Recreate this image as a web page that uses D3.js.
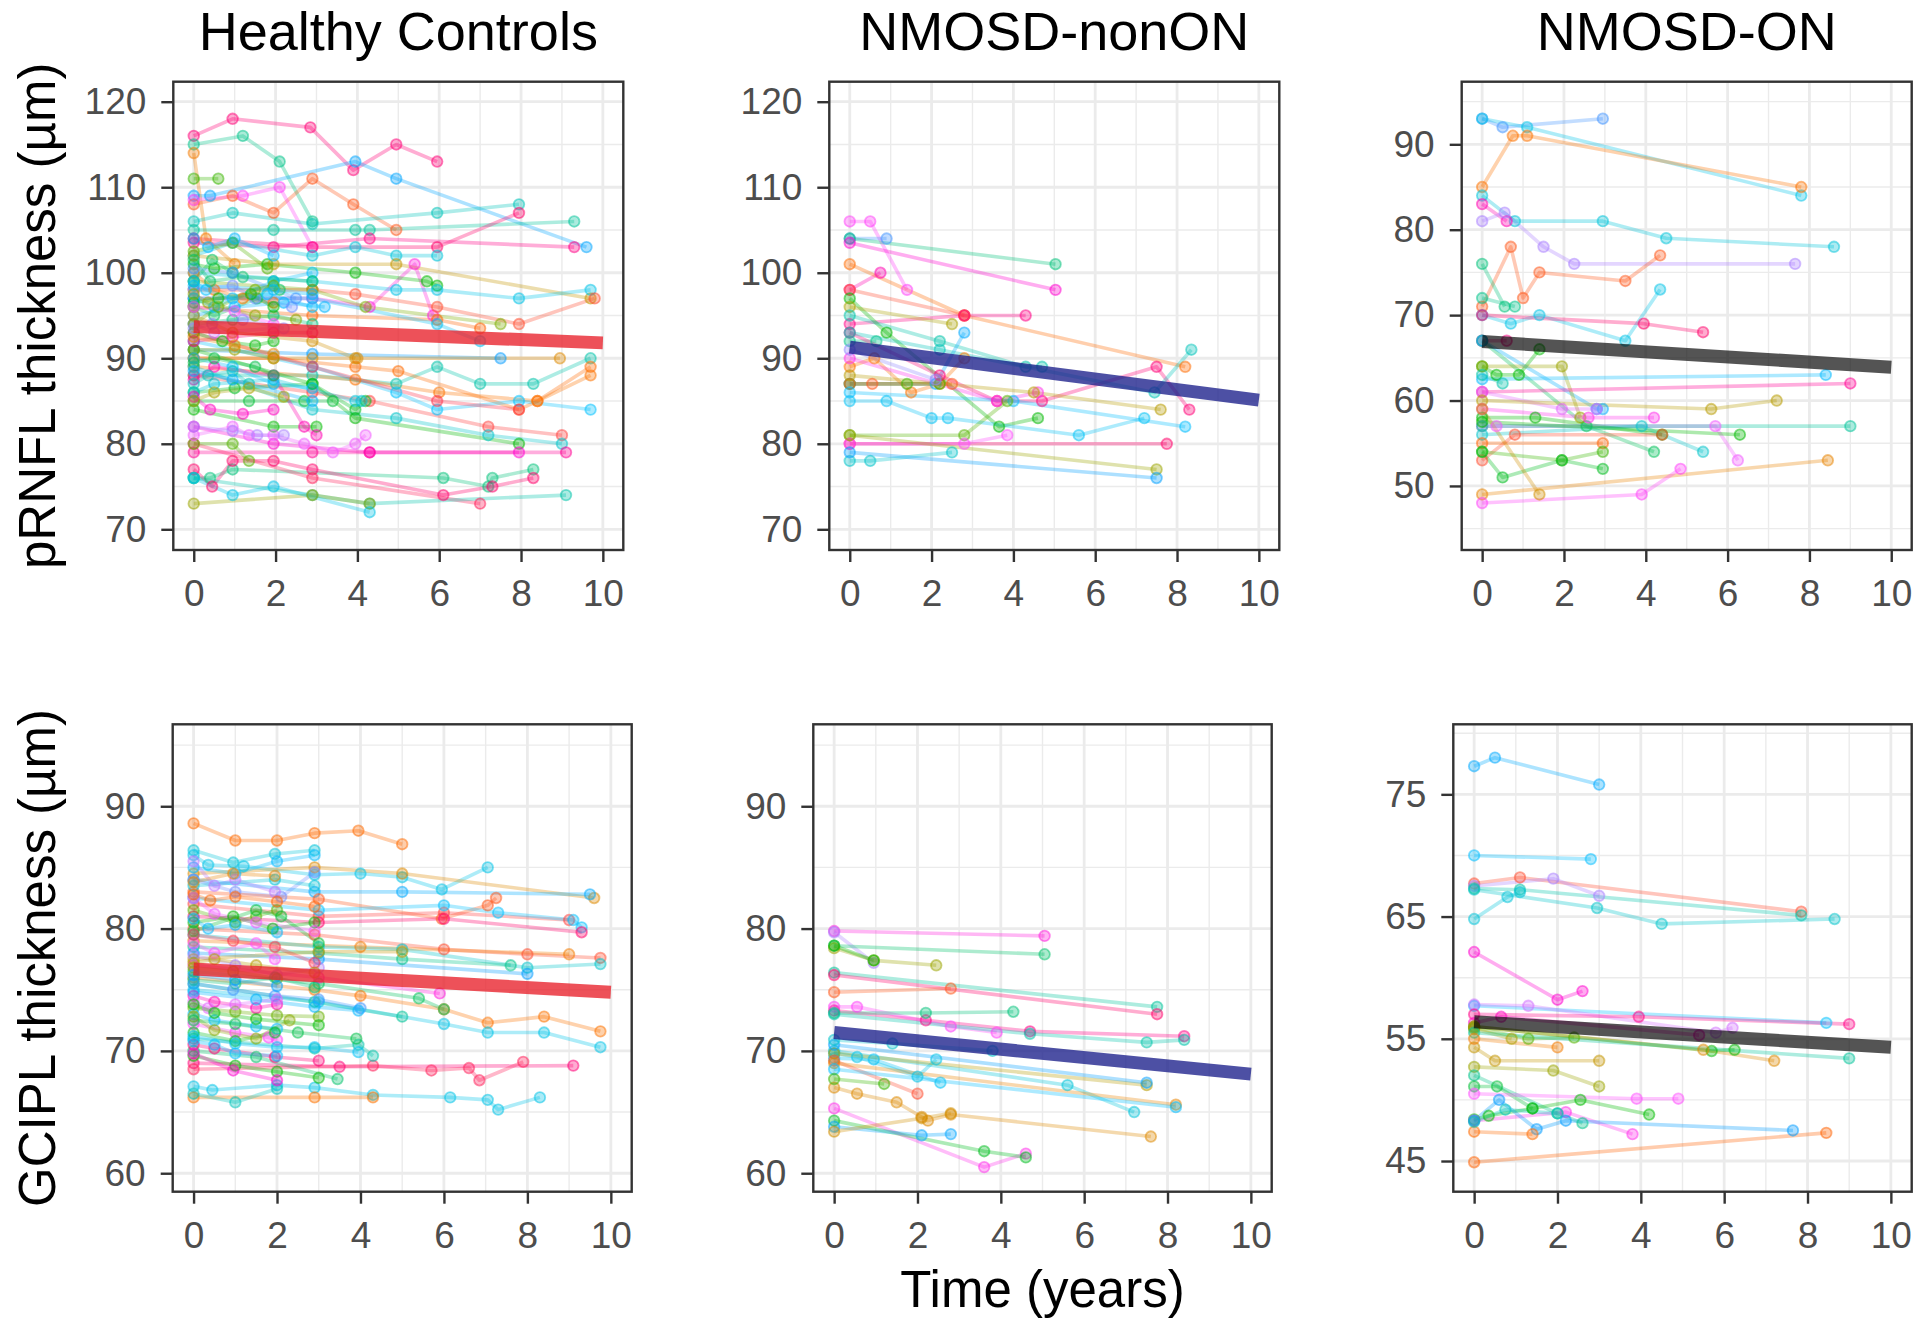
<!DOCTYPE html>
<html>
<head>
<meta charset="utf-8">
<script src="https://cdnjs.cloudflare.com/ajax/libs/d3/7.8.5/d3.min.js"></script>
<style>
  html, body { margin: 0; padding: 0; background: #fff; }
  svg { display: block; font-family: "Liberation Sans", Arial, sans-serif; }
</style>
</head>
<body>
<svg id="chart" width="1920" height="1325"></svg>
<script>
//============================================================
// Data: one row per subject eye -> [subjectId, t0, v0, t1, v1, ...]
// t = years since baseline, v = thickness in um
//------------------------------------------------------------

var groupTitles = ['Healthy Controls', 'NMOSD-nonON', 'NMOSD-ON'];
var xTicks = [0, 2, 4, 6, 8, 10];

var rnflTicksHC = [70, 80, 90, 100, 110, 120];
var rnflTicksON = [50, 60, 70, 80, 90];
var gciplTicksHC = [60, 70, 80, 90];
var gciplTicksON = [45, 55, 65, 75];

// fitted mean trajectory: value at t = 0 and t = 10
var fitTimes = [0, 10];
var rnflFit = [[93.7, 91.8], [91.3, 85.1], [66.9, 63.9]];
var gciplFit = [[76.7, 74.8], [71.5, 68.1], [56.4, 54.3]];

var hcRnfl = [
  [0, 0,116, 0.95,118, 2.85,117, 3.9,112, 4.95,115, 5.95,113],
  [32, 0,115, 1.2,116, 2.1,113, 2.9,106],
  [51, 0,109, 0.4,109, 3.95,113, 4.95,111, 9.6,103],
  [10, 0,114, 0.3,104, 1,101],
  [22, 0,111, 0.6,111],
  [6, 0,108, 0.95,109, 1.95,107, 2.9,111, 3.9,108, 4.95,105],
  [63, 0,108.5, 1.2,109, 2.1,110, 2.9,103],
  [35, 0,106, 0.95,107, 2.9,105.7, 5.95,107, 7.95,108],
  [33, 0,105, 1.95,105, 3.95,105, 4.3,105, 9.3,106],
  [1, 0,104, 2.9,103, 5.95,103, 7.95,107],
  [71, 0,103.5, 1.95,103, 4.3,104, 9.3,103],
  [37, 0,102, 0.95,103.5, 2.9,102, 3.95,103, 4.95,102, 5.95,102],
  [65, 0,97, 2.9,97, 4.3,96, 5.4,101, 5.85,95],
  [24, 0,101, 0.5,100.5, 1.8,101, 3.95,100, 5.7,99, 5.95,98.5],
  [14, 0,102, 1.95,101, 4.95,101, 9.7,97],
  [38, 0,100, 2.9,99, 4.95,98, 5.95,98, 7.95,97, 9.7,98],
  [5, 0,98, 2.9,98, 3.95,97.5, 5.95,96, 7.95,94, 9.8,97],
  [19, 0,99, 2.9,98, 4.2,96, 7.5,94],
  [7, 0,96, 2.9,95, 5.95,94.5, 7,93.5],
  [39, 0,97, 2.9,97, 5.95,94, 7,92],
  [53, 0,91, 2.9,90.5, 7.5,90],
  [12, 0,90, 2.9,90, 4,90, 8.95,90],
  [34, 0,88, 2.9,88, 4.95,87, 5.95,89, 7,87, 8.3,87, 9.7,90],
  [8, 0,90, 1.95,90, 3.95,89, 5,88.5, 7.95,84, 8.4,85, 9.7,89],
  [9, 0,89, 3.95,87.5, 6,86, 8.4,85, 9.7,88],
  [40, 0,92, 2.9,89, 4.95,86, 5.95,84, 7.95,85, 9.7,84],
  [3, 0,93, 2.9,89, 5.95,85, 7.95,84],
  [4, 0,88, 2.9,86, 4.3,85, 7.2,82, 9,81],
  [36, 0,89, 2.9,84, 4.95,83, 7.2,81, 9,80],
  [23, 0,91, 2.9,87, 3.95,83, 7.95,80],
  [66, 0,82, 1.95,80, 4.3,79, 7.95,79],
  [70, 0,79, 2.9,79, 4.3,79, 9.1,79],
  [31, 0,76, 0.4,76, 0.95,77, 6.1,76, 7.2,75, 7.3,76, 8.3,77],
  [1, 0,77, 0.45,75, 0.95,78, 1.95,78, 2.9,77, 6.1,74, 7.3,75, 8.3,76],
  [2, 0,80, 2.9,76, 7,73],
  [34, 0,76, 2.9,74, 4.3,73, 9.1,74],
  [17, 0,73, 2.9,74, 4.3,73],
  [38, 0,76, 0.95,74, 1.95,75, 4.3,72],
  [21, 0,80, 0.95,80, 1.35,78],
  [25, 0,84, 1.95,82, 3,82],
  [61, 0,81, 0.95,82, 1.35,81, 1.95,81, 2.7,80, 3.4,79, 3.95,80, 4.2,81],
  [57, 0,82, 0.95,81.5, 1.55,81, 2.2,81],
  [27, 0,85, 1.35,85, 2.7,85, 3.4,85],
  [26, 0,86, 1,86.5, 2.9,87, 3.95,84, 4.2,85],
  [37, 0,86, 0.5,87, 1.95,87.5, 3.95,85, 4.1,85],
  [68, 0,87.5, 0.5,89, 1.95,88, 2.7,82, 3,81],
  [29, 0,96, 0.5,95, 1.55,97, 1.95,99, 2.1,98],
  [9, 0,100, 0.5,98, 1.2,97, 1.95,96.5],
  [47, 0,95, 1,96, 2.2,96.5, 3.2,96],
  [55, 0,98, 0.95,98.5, 1.5,97, 2.4,96],
  [31, 0,94, 0.95,94.5, 1.95,95, 2.9,94],
  [24, 0,93, 0.7,92, 1.5,91.5, 1.95,92],
  [17, 0,91, 1,91, 1.95,90],
  [59, 0,94, 0.5,93, 1.95,93.5],
  [41, 0,97, 0.5,96, 1.95,99, 2.9,100],
  [21, 0,102.5, 0.95,103.5, 1.8,100.5],
  [29, 0,99, 0.45,101.5, 0.95,100],
  [13, 0,95, 0.95,93, 2.9,92, 3.95,90],
  [0, 0,92, 0.95,92.5, 1.95,93, 2.9,93],
  [43, 0,90, 0.95,89, 1.95,87, 2.9,86.5],
  [35, 0,87, 0.35,88, 0.95,88.5, 1.35,87],
  [25, 0,96.5, 0.6,97, 1.4,97.5, 1.95,96],
  [54, 0,100.5, 0.95,100, 2.5,97],
  [20, 0,94, 0.6,96, 1.5,98, 1.95,98.5],
  [44, 0,98.5, 1.95,98, 2.9,97.5],
  [62, 0,96, 1,95.5, 1.95,94],
  [28, 0,89.5, 0.5,90, 1.5,89, 1.95,88],
  [11, 0,92.5, 1,91.5, 1.95,90.5],
  [46, 0,104, 0.35,103, 1,104, 1.95,102],
  [30, 0,101.5, 0.4,99, 1.2,99.5, 2.9,99],
  [18, 0,97.5, 0.35,96.5, 1.5,95, 2.5,94.5],
  [67, 0,85.5, 0.4,84, 1.2,83.5, 1.95,84],
  [56, 0,93.5, 0.45,94, 1.2,94.5, 2.2,93.5],
  [42, 0,99, 0.3,98, 0.95,97, 1.8,97.5, 2.9,96],
  [16, 0,85, 0.5,86, 1.35,86.5, 2.2,85.5],
  [48, 0,88.5, 0.95,87.5, 2.9,85]
];

var nonRnfl = [
  [63, 0,106, 0.5,106, 1.4,98],
  [54, 0,104, 0.9,104],
  [31, 0,104, 5.03,101],
  [66, 0,103.5, 5.03,98],
  [68, 0,98, 0.75,100],
  [8, 0,101, 2.8,95, 8.2,89],
  [5, 0,98, 2.8,95],
  [71, 0,94, 2.8,95, 4.3,95],
  [23, 0,97, 0.9,93, 3.65,82, 4.6,83],
  [16, 0,96, 2.5,94],
  [34, 0,95, 2.2,92, 4.3,89, 4.7,89],
  [50, 0,87, 2.1,87, 2.8,93],
  [32, 0,92, 0.65,92],
  [9, 0,89, 0.6,90, 1.5,86, 2.2,87, 2.8,90],
  [22, 0,87, 1.4,87, 2.2,87],
  [6, 0,87, 0.55,87, 2.5,87],
  [0, 0,93, 2.2,88, 3.6,85, 4.7,85, 7.5,89, 8.3,84],
  [64, 0,90, 3.6,85, 4.6,86],
  [35, 0,93, 2.2,91, 7.45,86, 8.35,91],
  [15, 0,88, 4.5,86, 7.6,84],
  [39, 0,85, 0.9,85, 2,83, 2.4,83, 5.6,81, 7.2,83],
  [43, 0,86, 4,85, 8.2,82],
  [21, 0,81, 2.8,81, 3.85,85],
  [1, 0,80, 7.75,80],
  [62, 0,80, 2.8,80, 3.85,81],
  [36, 0,78, 0.5,78, 2.5,79],
  [17, 0,81, 7.5,77],
  [52, 0,79, 7.5,76],
  [56, 0,91, 2.1,87.5]
];

var onRnfl = [
  [54, 0,93, 0.5,92, 2.95,93],
  [38, 0,93, 1.1,92, 7.8,84],
  [9, 0,85, 0.75,91, 1.1,91, 7.8,85],
  [37, 0,84, 0.8,81, 2.95,81, 4.5,79, 8.6,78],
  [68, 0,83, 0.6,81],
  [57, 0,81, 0.55,82, 1.5,78, 2.25,76, 7.65,76],
  [6, 0,71, 0.7,78, 1,72, 1.4,75, 3.5,74, 4.35,77],
  [31, 0,76, 0.55,71],
  [32, 0,72, 0.8,71],
  [38, 0,70, 0.7,69, 1.4,70, 3.5,67, 4.35,73],
  [1, 0,70, 3.95,69, 5.4,68],
  [71, 0,67, 0.6,67],
  [29, 0,67, 2.55,57, 4.2,54],
  [25, 0,64, 0.35,63, 0.9,63, 1.4,66],
  [49, 0,67, 2.8,59, 2.95,59],
  [17, 0,64, 1.95,64, 2.4,58],
  [45, 0,62.5, 8.4,63],
  [70, 0,61, 9,62],
  [60, 0,61, 1.95,59, 2.8,59],
  [15, 0,60, 5.6,59, 7.2,60],
  [23, 0,58, 1.3,58, 4.4,56],
  [64, 0,59, 2.6,58, 4.2,58],
  [61, 0,57, 0.35,57, 5.7,57, 6.25,53],
  [36, 0,56, 3.9,57, 5.4,54],
  [33, 0,57, 9,57],
  [24, 0,57.5, 6.3,56],
  [5, 0,53, 0.8,56, 4.4,56],
  [7, 0,55, 2.95,55],
  [22, 0,54, 1.95,53, 2.95,54],
  [26, 0,54, 0.5,51, 1.95,53, 2.95,52],
  [11, 0,49, 8.45,53],
  [13, 0,59, 1.4,49],
  [63, 0,48, 3.9,49, 4.85,52],
  [34, 0,63, 0.5,62]
];

var hcGcipl = [
  [8, 0,88.6, 1,87.2, 2,87.2, 2.9,87.8, 3.95,88, 5,86.9],
  [37, 0,86.4, 0.95,85.4, 1.95,86.1, 2.9,86.4],
  [38, 0,86, 0.35,85.2, 1.2,85.1, 2.9,84.4, 4,84.5, 5,84.2, 5.95,83.2, 7.05,85],
  [12, 0,84.5, 2.9,85, 5,84.5, 9.6,82.5],
  [50, 0,84, 2.9,83, 5,83, 9.5,82.8],
  [55, 0,84, 1,83, 2.1,82.6, 2.9,84.6],
  [6, 0,83, 3,82.4, 5.95,80.8, 7.05,81.9, 7.25,82.5],
  [4, 0,82, 3,81, 6,81.3, 9,80.7],
  [40, 0,82.5, 3,81.5, 6,81.9, 7.3,81.3, 9.1,80.7, 9.3,80.1],
  [1, 0,81, 3,80.5, 6,80.8, 9.3,79.7],
  [5, 0,80, 2.9,79.5, 6,78.3, 8,77.9, 9.75,77.6],
  [10, 0,79, 4,78.5, 9,77.9],
  [36, 0,79.5, 3,78.5, 5,78.3, 8,76.8, 9.75,77.1],
  [32, 0,78.5, 3,78, 5,77.5, 7.6,77],
  [53, 0,78, 3,77.5, 8,76.3],
  [14, 0,77.5, 3,78.1, 5,78.1],
  [9, 0,76, 2.9,75, 4,74.5, 6,73.4, 7.05,72.3, 8.4,72.8, 9.75,71.6],
  [38, 0,75, 3,74, 6,72.2, 7.05,71.5, 8.4,71.5, 9.75,70.3],
  [33, 0,75.5, 2.9,74, 5,72.8],
  [29, 0,76.5, 3,75.5, 5.4,74.3, 6,73.4],
  [65, 0,77, 3,76, 5.9,74.7],
  [0, 0,69, 3.5,68.7, 9.1,68.8],
  [2, 0,68.5, 4.3,68.8, 5.7,68.4, 6.6,68.6, 6.85,67.6, 7.9,69.1],
  [38, 0,67.1, 0.45,66.8, 2,67.2, 2.9,67, 4.3,66.4, 6.15,66.2, 7.05,66, 7.3,65.2, 8.3,66.2],
  [9, 0,66.2, 2.9,66.2, 4.3,66.2],
  [35, 0,66.5, 1,65.8, 2,66.9],
  [34, 0,71, 2.9,70.2, 3.95,70.5, 4.3,69.6],
  [24, 0,69.6, 1,68.8, 2,68.3, 3,67.8],
  [30, 0,70, 1.5,69.5, 3.45,67.7],
  [45, 0,85, 1,84.5, 2,85.5, 2.9,86],
  [58, 0,85.5, 0.5,83.5, 1,84, 1.95,83],
  [21, 0,81.5, 1,80.5, 1.5,81, 2,81.5],
  [23, 0,80.5, 0.95,81, 1.9,80, 2.9,80.5],
  [27, 0,79.8, 1.5,81.5, 2.1,81, 3,78.8],
  [62, 0,78.8, 0.5,78, 1.5,78.8, 1.95,77.5],
  [57, 0,77.8, 1,77, 2,76.2, 3,76.8],
  [19, 0,76.8, 0.95,76.5, 2,75.9],
  [31, 0,75.8, 1,75.5, 1.95,76, 2.9,75.2],
  [68, 0,74.5, 0.5,74, 1.5,73.5, 2,73.8],
  [20, 0,73.5, 1,73.2, 2,72.9, 3,72.8],
  [44, 0,73, 0.5,72.5, 1.5,72, 2,71.8],
  [63, 0,72.2, 1,71.5, 1.8,71.1, 2,70.9],
  [26, 0,71.5, 1,70.8, 1.95,71.5],
  [0, 0,70.5, 0.5,70.2, 1.95,69.5, 3,69.2],
  [66, 0,69.8, 0.95,68.4, 2,67.6],
  [18, 0,72.8, 0.5,71.7, 1.5,71, 2.3,72.5],
  [61, 0,82.5, 0.5,81.2, 1.5,80.5, 2.9,79.8],
  [37, 0,83.5, 1.95,84, 2.9,83.5],
  [11, 0,83.8, 0.95,84.5, 1.95,84.3],
  [54, 0,75.5, 0.95,75, 1.95,74.5, 3,74.2, 4,73.5],
  [3, 0,79.5, 0.95,79, 1.95,78.5, 2.9,77.2],
  [47, 0,74.8, 1.5,74.2, 2.9,73.6, 3.95,73.3],
  [28, 0,72.5, 1,72.2, 2.5,71.5, 3.9,71],
  [39, 0,71.2, 1,70.6, 2,70.3, 2.9,70.3, 3.95,69.9],
  [46, 0,80.8, 0.35,80, 1,80.3, 2,79.7],
  [15, 0,77.2, 0.5,77.5, 1.5,77, 2.9,76.4],
  [60, 0,74, 0.35,73.5, 1,73.8, 2,74.2],
  [41, 0,70.8, 0.5,70.5, 1,69.8, 2,69.6],
  [7, 0,82.8, 0.4,82.3, 1,82.6, 2,82.2, 2.9,81.8],
  [52, 0,76.2, 1,75.8, 2,75.3],
  [25, 0,73.8, 0.5,73.1, 1.5,72.6, 3,72.1]
];

var nonGcipl = [
  [65, 0,79.8, 5.05,79.4],
  [57, 0,79.7, 0.95,77.2],
  [30, 0,78.6, 5.05,77.9],
  [17, 0,78.4, 0.95,77.4, 2.45,77],
  [23, 0,78.6, 0.95,77.4],
  [33, 0,76.4, 7.75,73.6],
  [1, 0,76.2, 7.75,73],
  [6, 0,74.8, 2.8,75.1],
  [71, 0,73.3, 2.2,72.5, 4.7,71.6, 8.4,71.2],
  [63, 0,73.6, 0.55,73.6, 2.8,72, 3.9,71.5],
  [31, 0,73.1, 2.2,73.1, 4.3,73.2],
  [34, 0,73, 4.7,71.4, 7.5,70.7, 8.4,70.9],
  [38, 0,69.8, 0.55,69.5, 2,67.9, 2.45,69.3],
  [39, 0,69.4, 0.95,69.3, 2.55,67.4],
  [37, 0,70, 5.6,67.2, 7.2,65],
  [15, 0,69.8, 7.5,67.2],
  [52, 0,70.5, 7.5,67.4],
  [5, 0,69.2, 2,66.5],
  [11, 0,69, 8.2,65.6],
  [43, 0,68.5, 8.2,65.4],
  [12, 0,67, 0.55,66.5, 1.5,65.8, 2.1,64.6, 2.25,64.3, 2.8,64.8, 7.6,63],
  [64, 0,65.3, 3.6,60.5, 4.6,61.6],
  [26, 0,64.3, 3.6,61.8, 4.6,61.3],
  [51, 0,63.8, 2.1,63.1, 2.8,63.2],
  [13, 0,63.4, 2.1,64.5, 2.8,64.9],
  [22, 0,67.7, 1.2,67.3],
  [36, 0,70.9, 1.4,70.6, 3.8,70]
];

var onGcipl = [
  [50, 0,77.3, 0.5,78, 3,75.8],
  [43, 0,70, 2.8,69.7],
  [5, 0,67.7, 1.1,68.2, 7.85,65.4],
  [57, 0,67.5, 1.9,68.1, 3,66.7],
  [36, 0,67.2, 2.95,65.7, 4.5,64.4, 8.65,64.8],
  [34, 0,67.3, 1.1,67.2, 7.85,65.1],
  [37, 0,64.8, 0.8,66.6, 1.1,67],
  [66, 0,62.1, 2,58.2, 2.6,58.9],
  [40, 0,57.7, 8.45,56.3],
  [59, 0,57.8, 1.3,57.7, 5.8,55.5, 6.2,55.9],
  [71, 0,57, 3.95,56.8, 9,56.2],
  [67, 0,56.3, 0.65,56.8, 5.4,55.3],
  [21, 0,55.9, 1.3,55, 2.4,55.1],
  [16, 0,55.8, 0.9,55],
  [23, 0,56, 5.7,54, 6.25,54.1],
  [12, 0,56, 5.5,54.1, 7.2,53.2],
  [33, 0,55.5, 9,53.4],
  [14, 0,54.3, 0.5,53.2, 3,53.2],
  [10, 0,55, 2,54.3],
  [17, 0,52.7, 1.9,52.4, 3,51.1],
  [32, 0,52, 2,48.9, 2.6,48.1],
  [27, 0,51.1, 0.55,51.1, 1.4,49.3],
  [25, 0,48.4, 0.35,48.7, 1.4,49.3, 2.55,50, 4.2,48.8],
  [62, 0,50.5, 3.9,50.1, 4.9,50.1],
  [64, 0,48.3, 2.2,49, 3.8,47.2],
  [53, 0,48.3, 0.6,50, 1.5,47.6, 2.2,48.3, 7.65,47.5],
  [8, 0,47.4, 1.4,47.2],
  [7, 0,44.9, 8.45,47.3],
  [35, 0,48.2, 0.75,49.2, 2,48.9]
];

//============================================================
// Layout
//------------------------------------------------------------

var nIds = 72;
var color = function (id) { return d3.hcl(15 + 360 * id / nIds, 100, 65).formatHex(); };
var fitColors = ['#E8202A', '#1B1F8A', '#000000'];

var colX = [[173.3, 623.3], [829.3, 1279.3], [1461.7, 1911.7]];
var colXBottom = [[172.7, 631.7], [813.3, 1271.7], [1453.3, 1911.7]];

var panels = [
  {rows: hcRnfl,   fit: rnflFit[0],  g: 0, x: colX[0], y: [81.7, 550],    dom: [67.58, 122.34], ticks: rnflTicksHC},
  {rows: nonRnfl,  fit: rnflFit[1],  g: 1, x: colX[1], y: [81.7, 550],    dom: [67.58, 122.34], ticks: rnflTicksHC},
  {rows: onRnfl,   fit: rnflFit[2],  g: 2, x: colX[2], y: [81.7, 550],    dom: [42.5, 97.33],   ticks: rnflTicksON},
  {rows: hcGcipl,  fit: gciplFit[0], g: 0, x: colXBottom[0], y: [724.3, 1191.7], dom: [58.49, 96.7],  ticks: gciplTicksHC},
  {rows: nonGcipl, fit: gciplFit[1], g: 1, x: colXBottom[1], y: [724.3, 1191.7], dom: [58.49, 96.7],  ticks: gciplTicksHC},
  {rows: onGcipl,  fit: gciplFit[2], g: 2, x: colXBottom[2], y: [724.3, 1191.7], dom: [42.49, 80.73], ticks: gciplTicksON}
];

var svg = d3.select('#chart');
svg.append('rect').attr('width', 1920).attr('height', 1325).attr('fill', '#fff');

function toPoints(row) {
  var pts = [];
  for (var i = 1; i < row.length; i += 2) {
    pts.push({id: row[0], t: row[i], v: row[i + 1]});
  }
  return pts;
}

function minorTicks(ticks, dom) {
  var step = ticks[1] - ticks[0], out = [];
  for (var v = ticks[0] - step / 2; v <= dom[1]; v += step) {
    if (v >= dom[0]) out.push(v);
  }
  return out;
}

panels.forEach(function (p) {
  var x = d3.scaleLinear().domain([-0.5, 10.5]).range(p.x);
  var y = d3.scaleLinear().domain(p.dom).range([p.y[1], p.y[0]]);
  var g = svg.append('g');

  //------------------------------------------------------------
  // grid
  var xMinor = [1, 3, 5, 7, 9];
  var yMinor = minorTicks(p.ticks, p.dom);

  g.selectAll('.gx-minor').data(xMinor).enter().append('line')
      .attr('x1', function (d) { return x(d); }).attr('x2', function (d) { return x(d); })
      .attr('y1', p.y[0]).attr('y2', p.y[1])
      .attr('stroke', '#EBEBEB').attr('stroke-width', 1.4);
  g.selectAll('.gy-minor').data(yMinor).enter().append('line')
      .attr('y1', function (d) { return y(d); }).attr('y2', function (d) { return y(d); })
      .attr('x1', p.x[0]).attr('x2', p.x[1])
      .attr('stroke', '#EBEBEB').attr('stroke-width', 1.4);
  g.selectAll('.gx-major').data(xTicks).enter().append('line')
      .attr('x1', function (d) { return x(d); }).attr('x2', function (d) { return x(d); })
      .attr('y1', p.y[0]).attr('y2', p.y[1])
      .attr('stroke', '#EBEBEB').attr('stroke-width', 2.8);
  g.selectAll('.gy-major').data(p.ticks).enter().append('line')
      .attr('y1', function (d) { return y(d); }).attr('y2', function (d) { return y(d); })
      .attr('x1', p.x[0]).attr('x2', p.x[1])
      .attr('stroke', '#EBEBEB').attr('stroke-width', 2.8);

  //------------------------------------------------------------
  // subject trajectories
  var subjects = p.rows.map(toPoints);
  var line = d3.line().x(function (d) { return x(d.t); }).y(function (d) { return y(d.v); });

  g.selectAll('path.subj').data(subjects).enter().append('path')
      .attr('class', 'subj')
      .attr('d', line)
      .attr('fill', 'none')
      .attr('stroke', function (d) { return color(d[0].id); })
      .attr('stroke-opacity', 0.32)
      .attr('stroke-width', 3.6)
      .attr('stroke-linejoin', 'round');

  var allPts = [].concat.apply([], subjects);
  g.selectAll('circle').data(allPts).enter().append('circle')
      .attr('cx', function (d) { return x(d.t); })
      .attr('cy', function (d) { return y(d.v); })
      .attr('r', 5.3)
      .attr('fill', function (d) { return color(d.id); })
      .attr('fill-opacity', 0.33)
      .attr('stroke', function (d) { return color(d.id); })
      .attr('stroke-opacity', 0.5)
      .attr('stroke-width', 1.8);

  //------------------------------------------------------------
  // group mean fit
  g.append('line')
      .attr('x1', x(fitTimes[0])).attr('y1', y(p.fit[0]))
      .attr('x2', x(fitTimes[1])).attr('y2', y(p.fit[1]))
      .attr('stroke', fitColors[p.g])
      .attr('stroke-opacity', p.g === 2 ? 0.67 : 0.78)
      .attr('stroke-width', 13);

  //------------------------------------------------------------
  // border + axes
  g.append('rect')
      .attr('x', p.x[0]).attr('y', p.y[0])
      .attr('width', p.x[1] - p.x[0]).attr('height', p.y[1] - p.y[0])
      .attr('fill', 'none').attr('stroke', '#333333').attr('stroke-width', 2.4);

  var ay = g.append('g').attr('transform', 'translate(' + p.x[0] + ',0)')
      .call(d3.axisLeft(y).tickValues(p.ticks).tickSize(12).tickPadding(15));
  var ax = g.append('g').attr('transform', 'translate(0,' + p.y[1] + ')')
      .call(d3.axisBottom(x).tickValues(xTicks).tickSize(12).tickPadding(18));

  [ay, ax].forEach(function (a) {
    a.select('.domain').remove();
    a.selectAll('line').attr('stroke', '#333333').attr('stroke-width', 2.4);
    a.selectAll('text')
        .attr('fill', '#4D4D4D')
        .style('font-size', '37px')
        .style('font-family', '"Liberation Sans", Arial, sans-serif');
  });
});

//============================================================
// Titles and axis labels
//------------------------------------------------------------

svg.selectAll('text.title').data(groupTitles).enter().append('text')
    .attr('class', 'title')
    .attr('x', function (d, i) { return (colX[i][0] + colX[i][1]) / 2; })
    .attr('y', 50)
    .attr('text-anchor', 'middle')
    .attr('fill', '#000')
    .style('font-size', '54px')
    .text(function (d) { return d; });

svg.append('text')
    .attr('transform', 'translate(55,' + ((81.7 + 550) / 2) + ') rotate(-90)')
    .attr('text-anchor', 'middle')
    .style('font-size', '51px')
    .text('pRNFL thickness (\u00B5m)');

svg.append('text')
    .attr('transform', 'translate(55,' + ((724.3 + 1191.7) / 2) + ') rotate(-90)')
    .attr('text-anchor', 'middle')
    .style('font-size', '51px')
    .text('GCIPL thickness (\u00B5m)');

svg.append('text')
    .attr('x', (colXBottom[1][0] + colXBottom[1][1]) / 2)
    .attr('y', 1307)
    .attr('text-anchor', 'middle')
    .style('font-size', '51px')
    .text('Time (years)');
</script>
</body>
</html>
